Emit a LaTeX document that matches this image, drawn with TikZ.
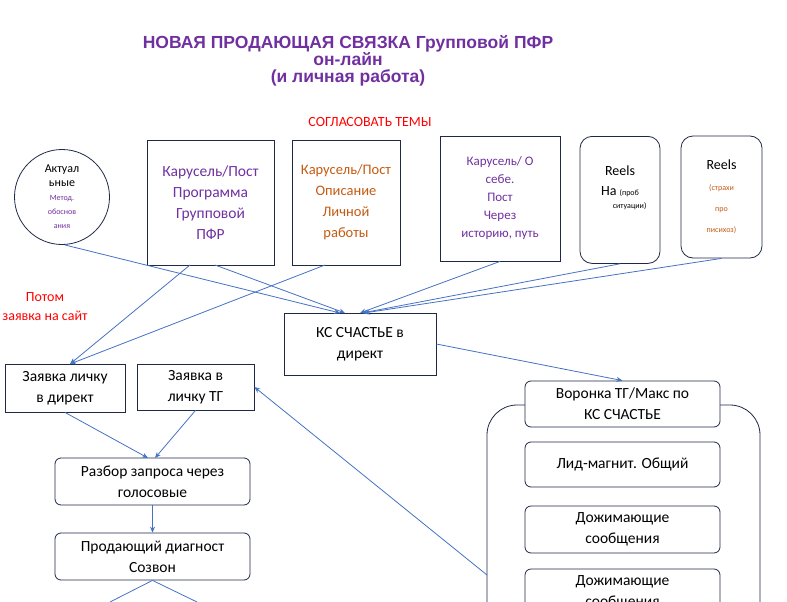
\documentclass[tikz,border=0pt]{standalone}
\usepackage{fontspec}
\setmainfont{Carlito}
\newfontfamily\titlefont{Liberation Sans}
\usetikzlibrary{arrows.meta}
\definecolor{pfrpurple}{RGB}{112,48,160}
\definecolor{pfrorange}{RGB}{197,90,17}
\definecolor{pfrblue}{RGB}{68,114,196}
\definecolor{pfrframe}{RGB}{31,40,70}
\tikzset{
  box/.style={draw=pfrframe,thick,align=center,inner sep=2pt,font=\fontsize{15.5}{21}\selectfont},
  rbox/.style={box,rounded corners=6pt},
  link/.style={draw=pfrblue,thick,-{Stealth[length=6pt,width=5pt]}},
  note/.style={text=red,font=\fontsize{14}{19}\selectfont,align=center}
}
\begin{document}
\begin{tikzpicture}[x=1pt,y=-1pt]
\useasboundingbox (0,0) rectangle (787,602);
\clip (0,0) rectangle (787,602);
% heading
\node[text=pfrpurple,align=center,font=\titlefont\bfseries\fontsize{17.5}{17}\selectfont] (title) at (348,61)
  {НОВАЯ ПРОДАЮЩАЯ СВЯЗКА Групповой ПФР\\он-лайн\\(и личная работа)};
\node[note] (agree) at (370,122) {СОГЛАСОВАТЬ ТЕМЫ};
\node[note] (later) at (45,307) {Потом\\заявка на сайт};
% content row
\node[draw=pfrframe,thick,circle,minimum size=95pt,align=center,inner sep=0pt,font=\fontsize{12}{14}\selectfont] (actual) at (62,197)
  {Актуал\\ьные\\{\color{pfrpurple}\fontsize{8}{11}\selectfont Метод.}\\{\color{pfrpurple}\fontsize{8}{11}\selectfont обоснов}\\{\color{pfrpurple}\fontsize{8}{11}\selectfont ания}};
\node[box,minimum width=127pt,minimum height=125pt,text=pfrpurple] (group) at (210.5,202.5)
  {Карусель/Пост\\Программа\\Групповой\\ПФР};
\node[box,minimum width=108pt,minimum height=125pt,text=pfrorange,font=\fontsize{14.5}{21}\selectfont] (personal) at (346,202.5)
  {Карусель/Пост\\Описание\\Личной\\работы};
\node[box,minimum width=120pt,minimum height=125pt,text=pfrpurple,font=\fontsize{13}{18}\selectfont] (about) at (500,198.5)
  {Карусель/ О\\себе.\\Пост\\Через\\историю, путь};
\node[rbox,minimum width=80pt,minimum height=127pt,rounded corners=12pt,anchor=north] (reelsA) at (620,136)
  {};
\node[align=center,font=\fontsize{14}{20}\selectfont] (reelsAt) at (620,188)
  {Reels\\На {\fontsize{8}{9}\selectfont(проб}\\[-7pt]{\fontsize{8}{9}\selectfont\hspace{2.4em}ситуации)}};
\node[rbox,minimum width=81pt,minimum height=122pt,rounded corners=12pt] (reelsB) at (721.5,197)
  {\fontsize{14}{18}\selectfont Reels\\{\color{pfrorange}\fontsize{8}{16}\selectfont(страхи}\\{\color{pfrorange}\fontsize{8}{16}\selectfont про}\\{\color{pfrorange}\fontsize{8}{16}\selectfont писихоз)}};
% middle
\node[box,minimum width=152pt,minimum height=62pt] (happy) at (360,344) {КС СЧАСТЬЕ в\\директ};
\node[box,minimum width=120pt,minimum height=48pt] (direct) at (65,388) {Заявка личку\\в директ};
\node[box,minimum width=117pt,minimum height=46pt] (tg) at (195.5,387) {Заявка в\\личку ТГ};
\node[rbox,minimum width=195pt,minimum height=47pt] (voice) at (152.5,481.5) {Разбор запроса через\\голосовые};
\node[rbox,minimum width=195pt,minimum height=47pt] (call) at (152.5,556.5) {Продающий диагност\\Созвон};
% funnel
\draw[pfrframe,thick,rounded corners=30pt] (487,640) -- (487,405) -- (760,405) -- (760,640);
\coordinate (funnelL) at (487,575);
\node[rbox,fill=white,minimum width=195pt,minimum height=46pt] (funnel) at (622.5,404) {Воронка ТГ/Макс по\\КС СЧАСТЬЕ};
\node[rbox,minimum width=195pt,minimum height=45pt] (magnet) at (622.5,464.5) {Лид-магнит. Общий};
\node[rbox,minimum width=195pt,minimum height=47pt] (pushA) at (622.5,529.5) {Дожимающие\\сообщения};
\node[rbox,minimum width=195pt,minimum height=47pt] (pushB) at (622.5,592.5) {Дожимающие\\сообщения};
\coordinate (outA) at (110,602);
\coordinate (outB) at (197,602);
% connectors
\draw[link] (65,245) -- (340,313);
\draw[link] (190,265) -- (70,364);
\draw[link] (215,265) -- (345,313);
\draw[link] (325,265) -- (70,364);
\draw[link] (about.south) -- (360,313);
\draw[link] (reelsA.south) -- (362,313);
\draw[link] (reelsB.south) -- (364,313);
\draw[link] (happy.east) -- (funnel.north);
\draw[link] (direct.south) -- (148,458);
\draw[link] (tg.south) -- (155,458);
\draw[link] (voice.south) -- (call.north);
\draw[link] (funnelL) -- (tg.east);
\draw[pfrblue,thick] (call.south) -- (outA);
\draw[pfrblue,thick] (call.south) -- (outB);
\end{tikzpicture}
\end{document}
